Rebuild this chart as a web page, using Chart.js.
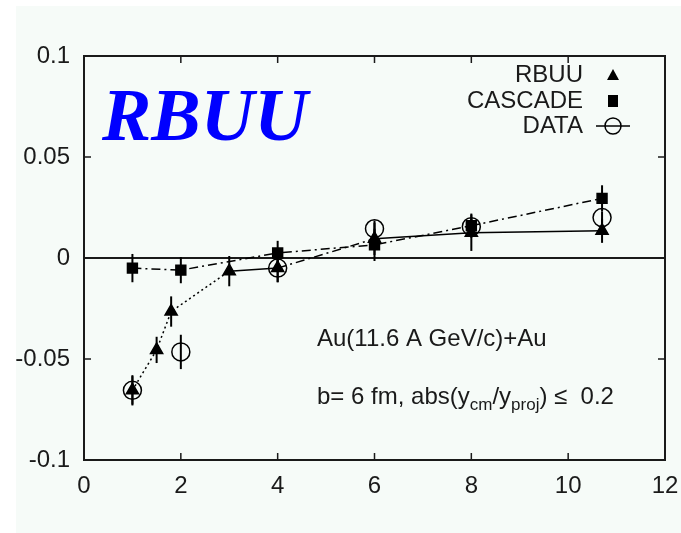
<!DOCTYPE html>
<html lang="en">
<head>
  <meta charset="UTF-8">
  <title>RBUU / CASCADE / DATA</title>
  <script src="https://cdn.jsdelivr.net/npm/chart.js@4.4.1/dist/chart.umd.min.js"></script>
  <style>
    body { margin: 0; background: #ffffff; }
    #wrap { width: 681px; height: 533px; }
  </style>
</head>
<body>
  <div id="wrap"><canvas id="myChart" width="681" height="533"></canvas></div>
  <script>
    // values
    const rbuuX = [1, 1.5, 1.8, 3, 4, 6, 8, 10.7];
    const rbuuY = [-0.0655, -0.0455, -0.0265, -0.0065, -0.005, 0.0095, 0.0125, 0.0135];
    const rbuuErr = [0.0075, 0.0065, 0.0075, 0.0075, 0.007, 0.008, 0.009, 0.006];

    const cascadeX = [1, 2, 4, 6, 8, 10.7];
    const cascadeY = [-0.005, -0.006, 0.0025, 0.0065, 0.016, 0.0295];
    const cascadeErr = [0.007, 0.0065, 0.006, 0.008, 0.006, 0.0065];

    const dataX = [1, 2, 4, 6, 8, 10.7];
    const dataY = [-0.0655, -0.0465, -0.005, 0.0145, 0.0155, 0.020];
    const dataErr = [0.007, 0.0085, 0.007, 0.004, 0.004, 0.003];

    const xTicks = [0, 2, 4, 6, 8, 10, 12];
    const yTicks = [-0.1, -0.05, 0, 0.05, 0.1];
    const yTickLabels = ['-0.1', '-0.05', '0', '0.05', '0.1'];

    const seriesNames = ['RBUU', 'CASCADE', 'DATA'];
    const titleText = 'RBUU';
    const noteLine1 = 'Au(11.6 A GeV/c)+Au';

    const FONT = '"Liberation Sans", Arial, sans-serif';
    const INK = '#1a1a1a';

    const toPoints = (xs, ys) => xs.map((x, i) => ({x: x, y: ys[i]}));

    // background, frame, zero line, inward ticks, error bars
    const decor = {
      id: 'decor',
      beforeDraw(chart) {
        const c = chart.ctx;
        c.save();
        c.fillStyle = '#ffffff';
        c.fillRect(0, 0, chart.width, chart.height);
        c.fillStyle = '#f6fbf8';
        c.fillRect(16, 6, chart.width - 16, chart.height - 6);
        c.restore();
      },
      beforeDatasetsDraw(chart) {
        const c = chart.ctx, a = chart.chartArea;
        const xs = chart.scales.x, ys = chart.scales.y;
        c.save();
        c.strokeStyle = INK;
        c.lineWidth = 2;
        c.strokeRect(a.left, a.top, a.right - a.left, a.bottom - a.top);
        // zero line
        const y0 = ys.getPixelForValue(0);
        c.beginPath();
        c.moveTo(a.left, y0);
        c.lineTo(a.right, y0);
        c.stroke();
        // inward ticks
        c.lineWidth = 1.5;
        c.beginPath();
        xTicks.slice(1, -1).forEach(v => {
          const px = xs.getPixelForValue(v);
          c.moveTo(px, a.bottom); c.lineTo(px, a.bottom - 7);
          c.moveTo(px, a.top); c.lineTo(px, a.top + 7);
        });
        yTicks.slice(1, -1).forEach(v => {
          const py = ys.getPixelForValue(v);
          c.moveTo(a.left, py); c.lineTo(a.left + 7, py);
          c.moveTo(a.right, py); c.lineTo(a.right - 7, py);
        });
        c.stroke();
        // error bars
        c.lineWidth = 2;
        c.strokeStyle = '#000';
        chart.data.datasets.forEach(ds => {
          ds.data.forEach((p, i) => {
            const px = xs.getPixelForValue(p.x);
            c.beginPath();
            c.moveTo(px, ys.getPixelForValue(p.y - ds.err[i]));
            c.lineTo(px, ys.getPixelForValue(p.y + ds.err[i]));
            c.stroke();
          });
        });
        c.restore();
      },
      afterDraw(chart) {
        const c = chart.ctx;
        c.save();
        // big blue title
        c.fillStyle = '#0000ff';
        c.font = 'italic bold 74px "Liberation Serif", "Times New Roman", serif';
        c.textBaseline = 'alphabetic';
        c.textAlign = 'left';
        c.fillText(titleText, 102, 140);

        // legend
        c.fillStyle = INK;
        c.strokeStyle = '#000';
        c.font = '24px ' + FONT;
        c.textAlign = 'right';
        c.textBaseline = 'middle';
        const ly = [75, 101, 126];
        seriesNames.forEach((n, i) => c.fillText(n, 583, ly[i]));
        const mx = 613;
        c.fillStyle = '#000';
        c.beginPath();
        c.moveTo(mx, ly[0] - 6); c.lineTo(mx + 6, ly[0] + 5); c.lineTo(mx - 6, ly[0] + 5);
        c.closePath(); c.fill();
        c.fillRect(mx - 5, ly[1] - 6, 10, 12);
        c.lineWidth = 1.5;
        c.beginPath();
        c.moveTo(mx - 17, ly[2]); c.lineTo(mx + 17, ly[2]);
        c.stroke();
        c.beginPath();
        c.arc(mx, ly[2], 8, 0, Math.PI * 2);
        c.stroke();

        // annotation
        c.fillStyle = INK;
        c.textAlign = 'left';
        c.textBaseline = 'alphabetic';
        c.font = '24px ' + FONT;
        c.fillText(noteLine1, 317, 346);
        let x = 317;
        const base = 404;
        const part = (t, size, dy) => {
          c.font = size + 'px ' + FONT;
          c.fillText(t, x, base + dy);
          x += c.measureText(t).width;
        };
        part('b= 6 fm, abs(y', 24, 0);
        part('cm', 17, 6);
        part('/y', 24, 0);
        part('proj', 17, 6);
        part(') \u2264  0.2', 24, 0);
        c.restore();
      }
    };

    const ctx = document.getElementById('myChart').getContext('2d');
    const myChart = new Chart(ctx, {
      type: 'scatter',
      data: {
        datasets: [{
          label: seriesNames[0],
          data: toPoints(rbuuX, rbuuY),
          err: rbuuErr,
          showLine: true,
          borderColor: '#000',
          backgroundColor: '#000',
          borderWidth: 1.5,
          pointStyle: 'triangle',
          pointRadius: 7,
          segment: {
            borderDash: s => {
              const x0 = s.p0.parsed.x;
              if (x0 < 3) return [2, 3];
              if (x0 >= 4 && x0 < 6) return [9, 4, 2, 4];
              return [];
            }
          }
        }, {
          label: seriesNames[1],
          data: toPoints(cascadeX, cascadeY),
          err: cascadeErr,
          showLine: true,
          borderColor: '#000',
          backgroundColor: '#000',
          borderWidth: 1.5,
          borderDash: [9, 4, 2, 4],
          pointStyle: 'rect',
          pointRadius: 7
        }, {
          label: seriesNames[2],
          data: toPoints(dataX, dataY),
          err: dataErr,
          showLine: false,
          borderColor: '#000',
          backgroundColor: 'rgba(0,0,0,0)',
          pointBorderWidth: 1.5,
          pointStyle: 'circle',
          pointRadius: 9
        }]
      },
      options: {
        responsive: false,
        animation: false,
        layout: { padding: { left: 0, top: 56, right: 16, bottom: 0 } },
        plugins: {
          legend: { display: false },
          tooltip: { enabled: false }
        },
        scales: {
          x: {
            type: 'linear',
            min: 0,
            max: 12,
            afterFit: s => { s.height = 73; s.paddingLeft = 0; s.paddingRight = 0; },
            afterBuildTicks: s => { s.ticks = xTicks.map(v => ({value: v})); },
            grid: { display: false, drawTicks: false },
            border: { display: false },
            ticks: {
              padding: 12,
              color: INK,
              font: { family: FONT, size: 24 },
              callback: v => String(v)
            }
          },
          y: {
            type: 'linear',
            min: -0.1,
            max: 0.1,
            afterFit: s => { s.width = 84; s.paddingTop = 0; s.paddingBottom = 0; },
            afterBuildTicks: s => { s.ticks = yTicks.map(v => ({value: v})); },
            grid: { display: false, drawTicks: false },
            border: { display: false },
            ticks: {
              padding: 14,
              color: INK,
              font: { family: FONT, size: 24 },
              callback: (v, i) => yTickLabels[i]
            }
          }
        }
      },
      plugins: [decor]
    });
  </script>
</body>
</html>
